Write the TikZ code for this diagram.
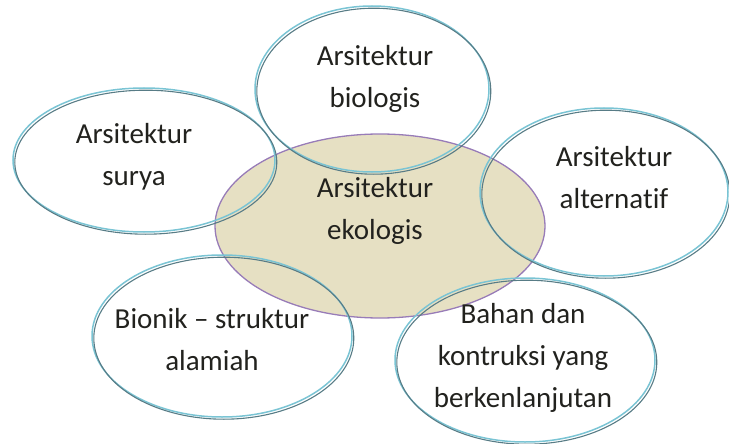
\documentclass[tikz,border=0pt]{standalone}
\usepackage{fontspec}
\setmainfont{Carlito}[Ligatures=NoCommon]
\usepackage{tikz}
\usetikzlibrary{shapes.geometric}
\definecolor{RingBlue}{RGB}{122,196,212}
\definecolor{RingDark}{RGB}{88,124,134}
\definecolor{EcoLine}{RGB}{152,124,184}
\definecolor{EcoFill}{RGB}{210,198,146}
\definecolor{TextDark}{RGB}{34,34,30}

\begin{document}
\begin{tikzpicture}[
    x=1pt, y=-1pt,
    ring/.style={
        ellipse,
        draw=RingBlue,
        line width=1.5pt,
        inner sep=0pt,
        postaction={
            draw=RingDark,
            line width=1.1pt,
            transform canvas={shift={(1.8pt,-2.2pt)}}
        }
    },
    ecoring/.style={
        ellipse,
        draw=EcoLine,
        line width=1.3pt,
        fill=EcoFill,
        fill opacity=0.55,
        draw opacity=1,
        inner sep=0pt
    },
    txt/.style={
        align=center,
        text=TextDark,
        inner sep=0pt,
        font=\fontsize{29}{42}\selectfont
    }
]
\useasboundingbox (0,0) rectangle (729,444);

\node[ecoring, minimum width=330pt, minimum height=184pt] (ekologis) at (380,226) {};

\node[ring, minimum width=262pt, minimum height=144pt] (surya) at (144,160) {};
\node[ring, minimum width=234pt, minimum height=166pt] (biologis) at (372,89) {};
\node[ring, minimum width=248pt, minimum height=168pt] (alternatif) at (604,192) {};
\node[ring, minimum width=260pt, minimum height=162pt] (bionik) at (222,336) {};
\node[ring, minimum width=260pt, minimum height=164pt] (bahan) at (525,360) {};

\node[txt] (tsurya) at (134,157) {Arsitektur\\surya};
\node[txt] (tbiologis) at (375,79) {Arsitektur\\biologis};
\node[txt] (tekologis) at (375,211) {Arsitektur\\ekologis};
\node[txt] (talternatif) at (614,178) {Arsitektur\\alternatif};
\node[txt] (tbionik) at (212,340) {Bionik -- struktur\\alamiah};
\node[txt] (tbahan) at (523,358) {Bahan dan\\kontruksi yang\\berkenlanjutan};

\end{tikzpicture}
\end{document}
